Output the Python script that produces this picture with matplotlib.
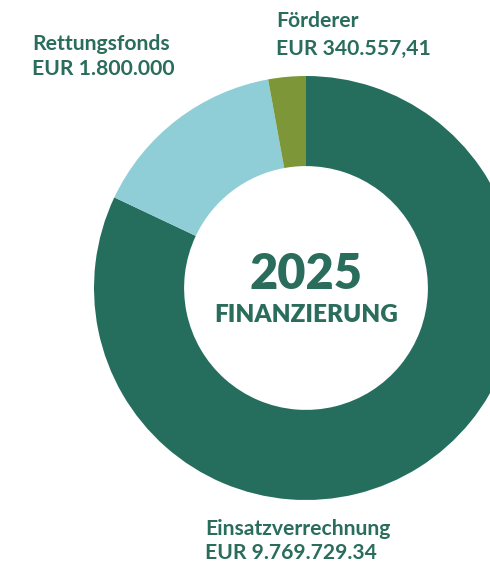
import matplotlib.pyplot as plt

# Finanzierung 2025
labels = ['Einsatzverrechnung', 'Rettungsfonds', 'Förderer']
amounts = ['EUR 9.769.729.34', 'EUR 1.800.000', 'EUR 340.557,41']
values = [9769729.34, 1800000, 340557.41]
colors = ['#256e5e', '#8fced6', '#7d9638']
text_col = '#2a6d5c'

W, H = 490, 562
fig = plt.figure(figsize=(W / 100, H / 100), dpi=100)

# donut: center (306, 288) px, radius 212 px -> partly outside the figure on the right
cx, cy, r = 306, 288, 212
ax = fig.add_axes([(cx - r) / W, (H - cy - r) / H, 2 * r / W, 2 * r / H])
ax.pie(values, colors=colors, startangle=90, counterclock=False,
       radius=1, wedgeprops=dict(width=0.425, linewidth=0))
ax.set_xlim(-1, 1)
ax.set_ylim(-1, 1)
ax.set_aspect('equal')
ax.axis('off')

def px(x, y):
    return x / W, 1 - y / H

font = 'Lato'

# center title
ax.text(0, 0.065, '2025', ha='center', va='center', fontsize=35,
        fontweight='heavy', color=text_col, family=font)
ax.text(0, -0.125, 'FINANZIERUNG', ha='center', va='center', fontsize=17.5,
        fontweight='heavy', color=text_col, family=font)

# labels
def label(x, y, s):
    fig.text(*px(x, y), s, fontsize=15.2, fontweight='bold', color=text_col,
             family=font, va='baseline')

label(32, 50, labels[1])
label(32, 75, amounts[1])
label(276, 27, labels[2])
label(276, 55, amounts[2])
label(205, 535, labels[0])
label(205, 559, amounts[0])

fig.savefig('out.png', dpi=100)
